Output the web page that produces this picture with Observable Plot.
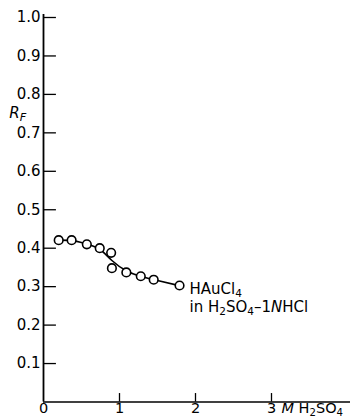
<!DOCTYPE html>
<html><head><meta charset="utf-8">
<script src="https://cdn.jsdelivr.net/npm/d3@7"></script>
<script src="https://cdn.jsdelivr.net/npm/@observablehq/plot@0.6"></script>
<style>body{margin:0;background:#fff}</style>
</head><body><div id="chart"></div>
<script>
// Measured points: H2SO4 molarity vs RF
const concentration = [0.20, 0.37, 0.57, 0.74, 0.89, 0.90, 1.09, 1.28, 1.45, 1.79];
const rf = [0.421, 0.421, 0.410, 0.400, 0.388, 0.348, 0.337, 0.327, 0.318, 0.303];
// Smooth trend curve drawn through the points
const curveX = [0.20, 0.40, 0.60, 0.75, 0.90, 1.10, 1.30, 1.50, 1.80];
const curveY = [0.421, 0.419, 0.409, 0.396, 0.368, 0.340, 0.326, 0.316, 0.302];
const yTicks = [0.1, 0.2, 0.3, 0.4, 0.5, 0.6, 0.7, 0.8, 0.9, 1.0];
const xTicks = [0, 1, 2, 3];
const seriesLabel = ["HAuCl4", "in H2SO4–1NHCl"];
const xUnit = "M H2SO4";
const yLabel = "RF";

const points = concentration.map((c, i) => ({x: c, y: rf[i]}));
const curve = curveX.map((c, i) => ({x: c, y: curveY[i]}));
const last = points[points.length - 1];

const font = "DejaVu Sans, sans-serif";
const chart = Plot.plot({
  width: 350, height: 417,
  marginLeft: 43, marginRight: 0, marginTop: 17, marginBottom: 15.5,
  style: {fontFamily: font, background: "#fff", color: "#000"},
  x: {domain: [0, 307 / 76], label: null},
  y: {domain: [0, 1], label: null},
  marks: [
    Plot.axisY(yTicks, {tickSize: 0, tickPadding: 3, fontSize: 15, tickFormat: d3.format(".1f"), label: null}),
    Plot.axisX(xTicks, {tickSize: 0, tickPadding: 1, fontSize: 14.5, tickFormat: d => String(d), label: null}),
    Plot.ruleY(yTicks, {x1: 0, x2: 0.17, stroke: "#000", strokeWidth: 1.3}),
    Plot.ruleX(xTicks.slice(1), {y1: 0, y2: 0.022, stroke: "#000", strokeWidth: 1.3}),
    Plot.ruleX([0], {y1: 0, y2: 1.008, stroke: "#000", strokeWidth: 1.8}),
    Plot.ruleY([0], {stroke: "#000", strokeWidth: 1.6}),
    Plot.line(curve, {x: "x", y: "y", curve: "natural", stroke: "#000", strokeWidth: 1.6}),
    Plot.dot(points, {x: "x", y: "y", r: 4.3, fill: "#fff", stroke: "#000", strokeWidth: 1.6}),
    Plot.text([seriesLabel[0]], {x: last.x, y: last.y, text: d => d, dx: 10, dy: 4, textAnchor: "start", fontSize: 15}),
    Plot.text([seriesLabel[1]], {x: last.x, y: last.y, text: d => d, dx: 10, dy: 22, textAnchor: "start", fontSize: 15}),
    Plot.text([xUnit], {x: 3, y: 0, text: d => d, dx: 10, dy: 1, lineAnchor: "top", textAnchor: "start", fontSize: 14.5}),
    Plot.text([yLabel], {x: -0.45, y: 0.75, text: d => d, textAnchor: "start", fontSize: 15})
  ]
});

const sub = (s) => `<tspan font-size="70%" dy="3">${s}</tspan>`;
const rich = {
  "HAuCl4": `HAuCl${sub("4")}`,
  "in H2SO4–1NHCl": `in H${sub("2")}<tspan dy="-3">SO</tspan>${sub("4")}<tspan dy="-3">–1</tspan><tspan font-style="italic">N</tspan>HCl`,
  "M H2SO4": `<tspan font-style="italic">M</tspan> H${sub("2")}<tspan dy="-3">SO</tspan>${sub("4")}`,
  "RF": `<tspan font-style="italic">R</tspan><tspan font-style="italic" font-size="75%" dy="3">F</tspan>`
};
d3.select(chart).selectAll("text").each(function() {
  const t = this.textContent;
  if (rich[t]) this.innerHTML = rich[t];
});
document.getElementById("chart").appendChild(chart);
</script>
</body></html>
